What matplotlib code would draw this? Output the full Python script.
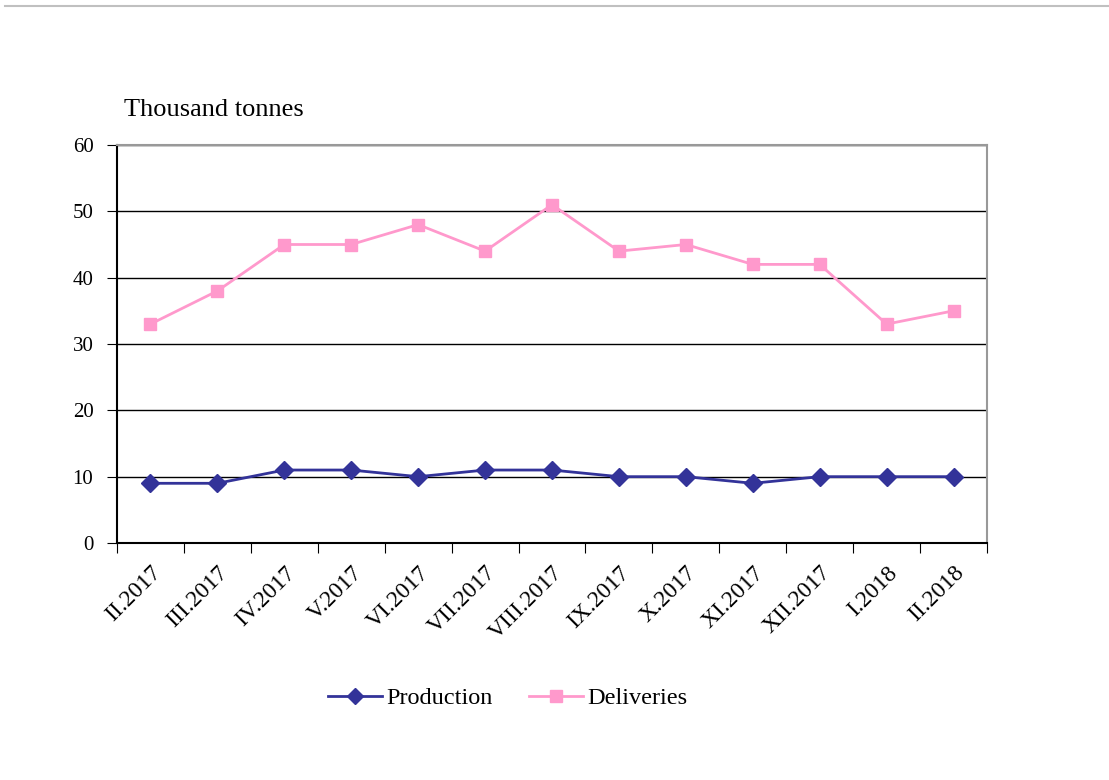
import matplotlib
matplotlib.use("Agg")
import matplotlib.pyplot as plt
from matplotlib.lines import Line2D

# --- Data ---
months = ["II.2017", "III.2017", "IV.2017", "V.2017", "VI.2017", "VII.2017",
          "VIII.2017", "IX.2017", "X.2017", "XI.2017", "XII.2017", "I.2018", "II.2018"]
production = [9, 9, 11, 11, 10, 11, 11, 10, 10, 9, 10, 10, 10]
deliveries = [33, 38, 45, 45, 48, 44, 51, 44, 45, 42, 42, 33, 35]

PROD_COLOR = "#333399"
DELIV_COLOR = "#FF99CC"

plt.rcParams["font.family"] = ["Liberation Serif", "DejaVu Serif"]

fig = plt.figure(figsize=(11.09, 7.8), dpi=100)
ax = fig.add_axes([117 / 1109, 1 - 543 / 780, 870 / 1109, 398 / 780])

x = list(range(len(months)))
ax.plot(x, production, color=PROD_COLOR, lw=2, marker="D", ms=9, label="Production", zorder=3)
ax.plot(x, deliveries, color=DELIV_COLOR, lw=2, marker="s", ms=9, label="Deliveries", zorder=3)

ax.set_xlim(-0.5, len(months) - 0.5)
ax.set_ylim(0, 60)
ax.set_yticks(range(0, 61, 10))
ax.yaxis.grid(True, color="black", lw=1)
ax.set_axisbelow(True)

# category boundaries carry the tick marks, labels sit at centres
ax.set_xticks([i - 0.5 for i in range(len(months) + 1)])
ax.set_xticklabels([])
ax.set_xticks(x, minor=True)
ax.set_xticklabels(months, minor=True, rotation=45, ha="right", va="top",
                   rotation_mode="anchor", fontsize=17)
ax.tick_params(axis="x", which="minor", length=0, pad=14)
ax.tick_params(axis="x", which="major", length=7, direction="out", color="black")
ax.tick_params(axis="y", labelsize=15, length=7, pad=10, color="black")

ax.spines["left"].set_color("black")
ax.spines["bottom"].set_color("black")
ax.spines["top"].set_color("#999999")
ax.spines["right"].set_color("#999999")
for s in ax.spines.values():
    s.set_linewidth(1.5)

fig.text(124 / 1109, 1 - 110 / 780, "Thousand tonnes", fontsize=19, va="center", ha="left")

handles = [
    Line2D([], [], color=PROD_COLOR, lw=2, marker="D", ms=8),
    Line2D([], [], color=DELIV_COLOR, lw=2, marker="s", ms=8),
]
fig.legend(handles, ["Production", "Deliveries"], loc="center",
           bbox_to_anchor=(508 / 1109, 1 - 698 / 780), ncol=2, frameon=False,
           fontsize=17.5, handlelength=2.2, columnspacing=1.5, handletextpad=0.2)

# separator line from the page header above the chart
fig.add_artist(Line2D([5 / 1109, 1], [1 - 6 / 780, 1 - 6 / 780], color="#c0c0c0", lw=1.5))

fig.savefig("out.png", dpi=100)
